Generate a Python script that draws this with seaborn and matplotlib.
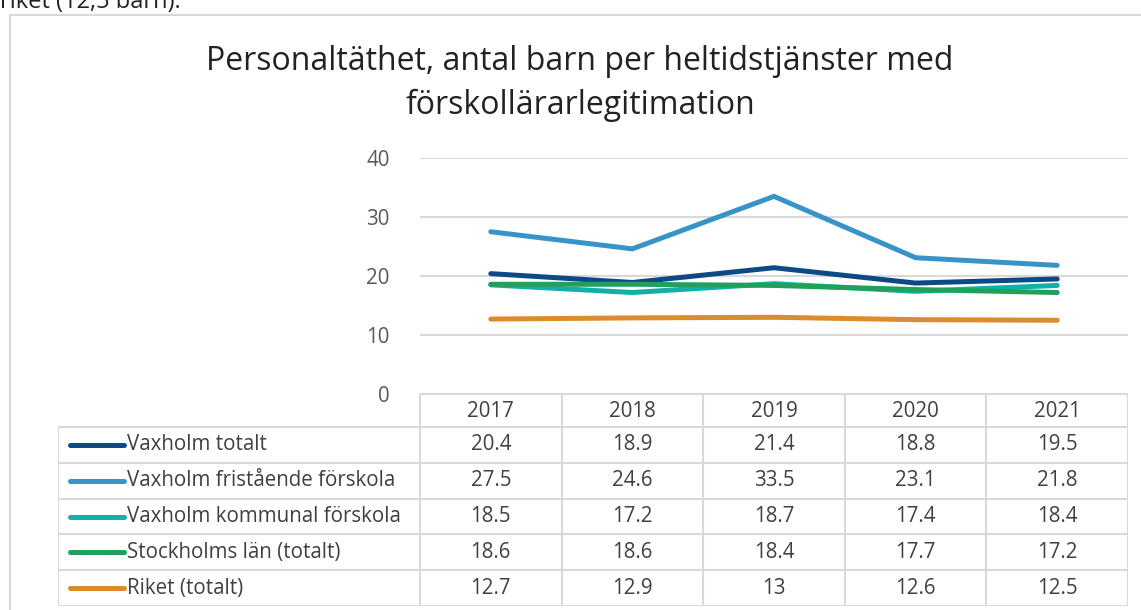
import numpy as np
import pandas as pd
import matplotlib
matplotlib.use("Agg")
import matplotlib.pyplot as plt
import seaborn as sns

# Data
years = ["2017", "2018", "2019", "2020", "2021"]
series_names = [
    "Vaxholm totalt",
    "Vaxholm fristående förskola",
    "Vaxholm kommunal förskola",
    "Stockholms län (totalt)",
    "Riket (totalt)",
]
vaxholm_totalt = [20.4, 18.9, 21.4, 18.8, 19.5]
vaxholm_fristaende = [27.5, 24.6, 33.5, 23.1, 21.8]
vaxholm_kommunal = [18.5, 17.2, 18.7, 17.4, 18.4]
stockholms_lan = [18.6, 18.6, 18.4, 17.7, 17.2]
riket = [12.7, 12.9, 13, 12.6, 12.5]
colors = ["#0c4a86", "#3894c8", "#12b1a8", "#21a05c", "#dc8b2d"]

values = [vaxholm_totalt, vaxholm_fristaende, vaxholm_kommunal, stockholms_lan, riket]

rows = []
for name, vals in zip(series_names, values):
    for i, v in enumerate(vals):
        rows.append({"serie": name, "x": i, "value": v})
df = pd.DataFrame(rows)

sns.set_theme(style="white")
plt.rcParams["font.family"] = ["Open Sans", "DejaVu Sans"]

W, H = 1141, 610
fig = plt.figure(figsize=(W / 100, H / 100), dpi=100)

grid_col = "#d9d9d9"
text_col = "#404040"
fs = 14.8

# outer chart border
fig.patches.append(plt.Rectangle((10 / W, -0.01), 1.2, 1 - 15 / H + 0.01,
                                 transform=fig.transFigure, fill=False,
                                 edgecolor=grid_col, lw=1.5))
# text of the page above the chart, cut off at the top like in the source
fig.text(0 / W, 1 - 2 / H, "riket (12,5 barn).", fontsize=17, color="#222222",
         ha="left", va="center")

fig.text(580 / W, 1 - 62 / H, "Personaltäthet, antal barn per heltidstjänster med",
         fontsize=23, color="#222222", ha="center", va="center")
fig.text(580 / W, 1 - 105 / H, "förskollärarlegitimation",
         fontsize=23, color="#222222", ha="center", va="center")

# main line axes
L, R, T, B = 420, 1128, 158, 394
ax = fig.add_axes([L / W, 1 - B / H, (R - L) / W, (B - T) / H])
sns.lineplot(data=df, x="x", y="value", hue="serie", palette=colors,
             hue_order=series_names, lw=3.6, ax=ax, legend=False,
             solid_capstyle="round", solid_joinstyle="miter")
ax.set_xlim(-0.5, len(years) - 0.5)
ax.set_ylim(0, 40)
ax.set_yticks([0, 10, 20, 30, 40])
ax.set_xticks([])
ax.set_xlabel("")
ax.set_ylabel("")
for s in ax.spines.values():
    s.set_visible(False)
ax.yaxis.grid(True, color=grid_col, lw=1.5)
ax.set_axisbelow(True)
ax.tick_params(axis="y", length=0, pad=22, labelsize=fs, labelcolor="#595959")
ax.patch.set_alpha(0)

# data table below
unit = (R - L) / len(years)
tleft = -0.5 - (L - 58) / unit
TB = 606
tax = fig.add_axes([58 / W, 1 - TB / H, (R - 58) / W, (TB - B) / H])
tax.set_xlim(tleft, len(years) - 0.5)
tax.set_ylim(TB - B, 0)
tax.axis("off")

head_h = 427 - B
row_h = (TB - 427) / len(series_names)
lkw = dict(color=grid_col, lw=1.5, solid_capstyle="butt")

# header row (years)
tax.plot([-0.5, len(years) - 0.5], [0, 0], **lkw)
for i, y in enumerate(years):
    tax.text(i, head_h / 2 + 1, y, ha="center", va="center", fontsize=fs, color=text_col)
# vertical lines
for k in range(len(years) + 1):
    tax.plot([k - 0.5, k - 0.5], [0, TB - B], **lkw)
tax.plot([tleft, tleft], [head_h, TB - B], **lkw)
# horizontal row lines
for r in range(len(series_names) + 1):
    yy = head_h + r * row_h
    tax.plot([tleft, len(years) - 0.5], [yy, yy], **lkw)

for r, (name, vals, c) in enumerate(zip(series_names, values, colors)):
    yc = head_h + (r + 0.5) * row_h
    x0 = tleft + 12 / unit
    x1 = tleft + 66 / unit
    tax.plot([x0, x1], [yc, yc], color=c, lw=3.6, solid_capstyle="round")
    tax.text(x1 + 3 / unit, yc, name, ha="left", va="center", fontsize=fs, color=text_col)
    for i, v in enumerate(vals):
        tax.text(i, yc, f"{v:g}", ha="center", va="center", fontsize=fs, color=text_col)

fig.savefig("out.png", dpi=100)
